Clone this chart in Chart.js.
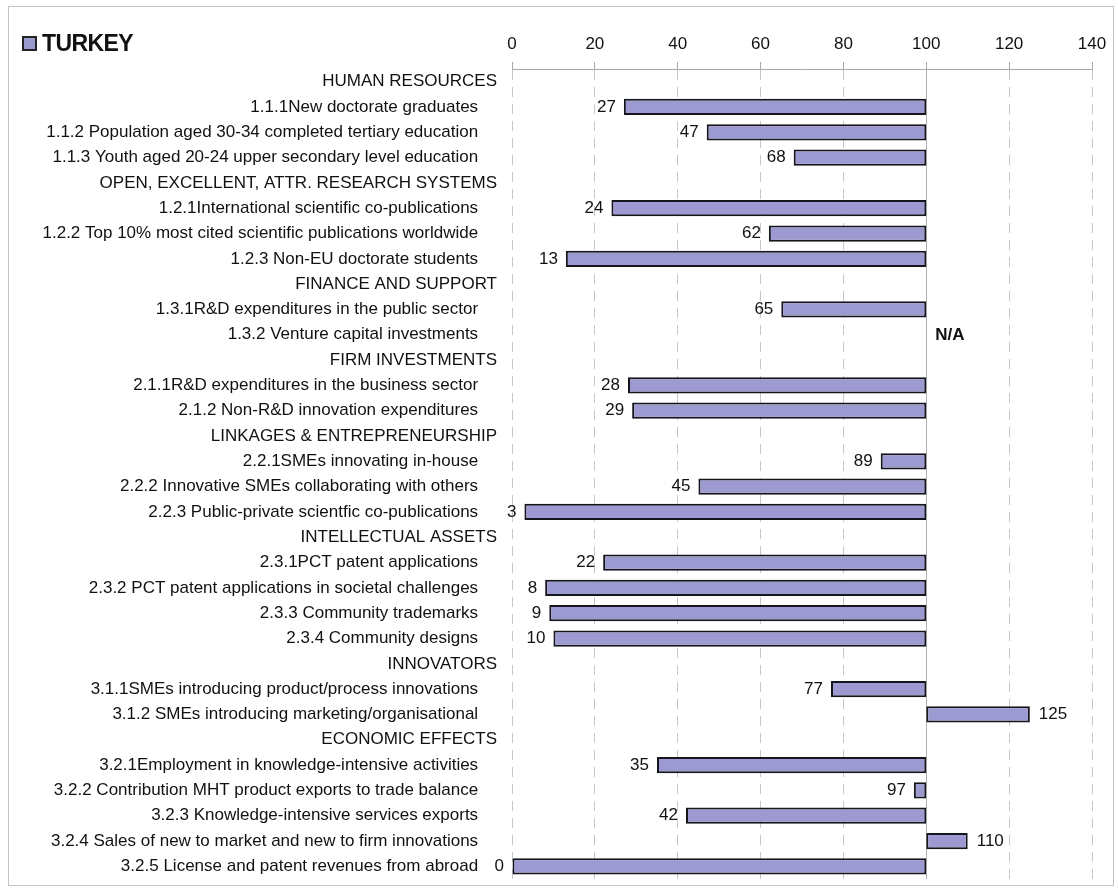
<!DOCTYPE html>
<html>
<head>
<meta charset="utf-8">
<script src="https://cdn.jsdelivr.net/npm/chart.js@4.4.1/dist/chart.umd.min.js"></script>
<style>
  html, body { margin: 0; padding: 0; background: #fff; }
  #wrap { position: relative; width: 1118px; height: 891px; overflow: hidden; }
  #frame { position: absolute; left: 8px; top: 6px; width: 1106px; height: 880px; border: 1px solid #c4c4c4; box-sizing: border-box; }
  #chart { position: absolute; left: 0; top: 0; }
  #legend { position: absolute; left: 22px; top: 30px; font-family: 'Liberation Sans', Arial, sans-serif; font-weight: bold; font-size: 23px; color: #111; display: flex; align-items: center; letter-spacing: -0.6px; }
  #legend .sw { display: inline-block; width: 11px; height: 11px; background: #9a9acd; border: 2px solid #222; margin-right: 5px; }
</style>
</head>
<body>
<div id="wrap">
  <div id="frame"></div>
  <canvas id="chart" width="1118" height="891"></canvas>
  <div id="legend"><span class="sw"></span><span>TURKEY</span></div>
</div>
<script>
const seriesName = 'TURKEY';
const categories = [
  'HUMAN RESOURCES',
  '1.1.1New doctorate graduates',
  '1.1.2 Population aged 30-34 completed tertiary education',
  '1.1.3 Youth aged 20-24 upper secondary level education',
  'OPEN, EXCELLENT, ATTR. RESEARCH SYSTEMS',
  '1.2.1International scientific co-publications',
  '1.2.2 Top 10% most cited scientific publications worldwide',
  '1.2.3 Non-EU doctorate students',
  'FINANCE AND SUPPORT',
  '1.3.1R&D expenditures in the public sector',
  '1.3.2 Venture capital investments',
  'FIRM INVESTMENTS',
  '2.1.1R&D expenditures in the business sector',
  '2.1.2 Non-R&D innovation expenditures',
  'LINKAGES & ENTREPRENEURSHIP',
  '2.2.1SMEs innovating in-house',
  '2.2.2 Innovative SMEs collaborating with others',
  '2.2.3 Public-private scientfic co-publications',
  'INTELLECTUAL ASSETS',
  '2.3.1PCT patent applications',
  '2.3.2 PCT patent applications in societal challenges',
  '2.3.3 Community trademarks',
  '2.3.4 Community designs',
  'INNOVATORS',
  '3.1.1SMEs introducing product/process innovations',
  '3.1.2 SMEs introducing marketing/organisational',
  'ECONOMIC EFFECTS',
  '3.2.1Employment in knowledge-intensive activities',
  '3.2.2 Contribution MHT product exports to trade balance',
  '3.2.3 Knowledge-intensive services exports',
  '3.2.4 Sales of new to market and new to firm innovations',
  '3.2.5 License and patent revenues from abroad'
];
const sectionHeaders = [
  'HUMAN RESOURCES',
  'OPEN, EXCELLENT, ATTR. RESEARCH SYSTEMS',
  'FINANCE AND SUPPORT',
  'FIRM INVESTMENTS',
  'LINKAGES & ENTREPRENEURSHIP',
  'INTELLECTUAL ASSETS',
  'INNOVATORS',
  'ECONOMIC EFFECTS'
];
const notAvailable = ['1.3.2 Venture capital investments'];
// Turkey score relative to EU = 100 (null = header row or not available)
const values = [
  null, 27, 47, 68,
  null, 24, 62, 13,
  null, 65, null,
  null, 28, 29,
  null, 89, 45, 3,
  null, 22, 8, 9, 10,
  null, 77, 125,
  null, 35, 97, 42, 110, 0
];
const reference = 100;
const xTicks = [0, 20, 40, 60, 80, 100, 120, 140];

const FONT = "'Liberation Sans', Arial, sans-serif";
const TEXT = '#111111';
Chart.defaults.font.family = FONT;
Chart.defaults.color = TEXT;

const barData = values.map(v => (v === null ? null : [v, reference]));

const valueLabels = {
  id: 'valueLabels',
  afterDatasetsDraw(chart) {
    const ctx = chart.ctx;
    const xs = chart.scales.x, ys = chart.scales.y;
    ctx.save();
    ctx.fillStyle = TEXT;
    ctx.textBaseline = 'middle';
    values.forEach((v, i) => {
      const y = ys.getPixelForValue(i);
      if (v === null) {
        if (notAvailable.includes(categories[i])) {
          ctx.font = 'bold 17px ' + FONT;
          ctx.textAlign = 'left';
          ctx.fillText('N/A', xs.getPixelForValue(reference) + 9, y + 1);
        }
        return;
      }
      ctx.font = '17px ' + FONT;
      if (v < reference) {
        ctx.textAlign = 'right';
        ctx.fillText(String(v), xs.getPixelForValue(v) - 8, y);
      } else {
        ctx.textAlign = 'left';
        ctx.fillText(String(v), xs.getPixelForValue(v) + 9, y);
      }
    });
    ctx.restore();
  }
};

new Chart(document.getElementById('chart'), {
  type: 'bar',
  data: {
    labels: categories,
    datasets: [{
      label: seriesName,
      data: barData,
      backgroundColor: '#9c9ad0',
      borderColor: '#15151c',
      borderWidth: 2,
      borderSkipped: false,
      barPercentage: 0.64,
      categoryPercentage: 1.0
    }]
  },
  options: {
    indexAxis: 'y',
    responsive: false,
    animation: false,
    layout: { padding: { left: 10, right: 26, top: 28, bottom: 12 } },
    plugins: {
      legend: { display: false },
      tooltip: { enabled: false }
    },
    scales: {
      x: {
        position: 'top',
        min: 0,
        max: 140,
        afterBuildTicks: s => { s.ticks = xTicks.map(v => ({ value: v })); },
        ticks: { font: { size: 17 }, color: TEXT, padding: 7 },
        grid: {
          color: ctx => (ctx.tick && ctx.tick.value === reference ? '#b0b0b0' : '#c8c8c8'),
          lineWidth: 1,
          tickLength: 7,
          tickColor: '#a8a8a8',
          drawTicks: true
        },
        border: {
          display: true,
          color: '#a8a8a8',
          width: 1,
          dash: ctx => (ctx.tick && ctx.tick.value === reference ? [] : [10, 7])
        },
        afterFit: s => { s.height = 69 - 28; s.paddingLeft = 0; s.paddingRight = 0; }
      },
      y: {
        ticks: {
          font: { size: 17 },
          color: TEXT,
          padding: 15,
          autoSkip: false,
          callback: function (value) {
            const lab = this.getLabelForValue(value);
            return sectionHeaders.includes(lab) ? lab : lab + '    ';
          }
        },
        grid: { display: false, drawTicks: false },
        border: { display: false },
        afterFit: s => { s.width = 512 - 10; s.paddingTop = 0; s.paddingBottom = 0; }
      }
    }
  },
  plugins: [valueLabels]
});
</script>
</body>
</html>
